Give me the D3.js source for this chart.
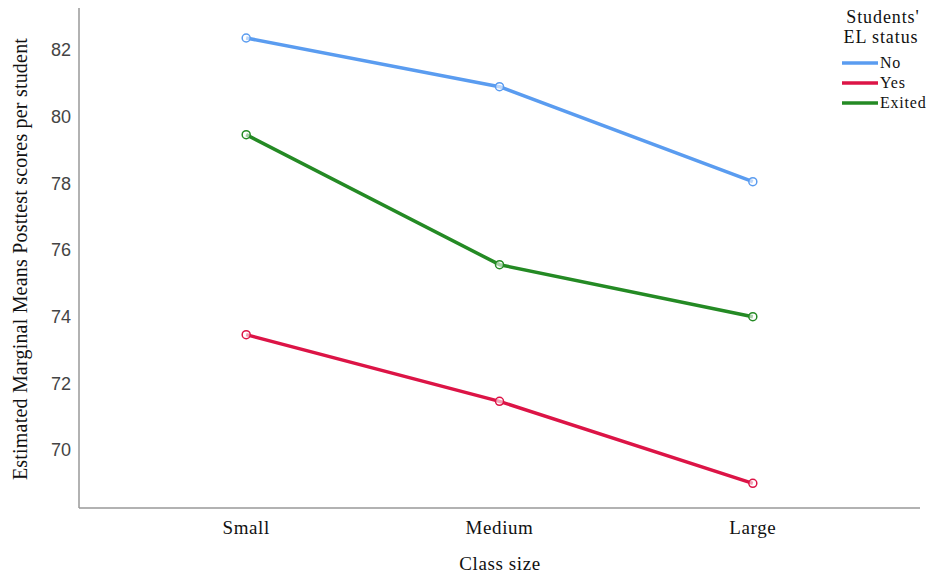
<!DOCTYPE html>
<html><head><meta charset="utf-8">
<script src="https://cdn.jsdelivr.net/npm/d3@7"></script>
<style>body{margin:0;background:#fff}</style>
</head><body>
<svg id="chart" width="929" height="577"></svg>
<script>
const categories = ["Small", "Medium", "Large"];
const seriesNames = ["No", "Yes", "Exited"];
const valuesNo = [82.36, 80.9, 78.05];
const valuesYes = [73.46, 71.46, 69.0];
const valuesExited = [79.46, 75.56, 74.0];
const yTicks = [70, 72, 74, 76, 78, 80, 82];
const colors = ["#5a9cf0", "#dc1446", "#248a24"];

const series = [valuesNo, valuesYes, valuesExited];
const svg = d3.select("#chart");
const plotLeft = 79, plotRight = 920, plotTop = 8, plotBottom = 508;
const serif = "'Liberation Serif', 'Times New Roman', serif";

const x = d3.scalePoint().domain(categories).range([plotLeft, plotRight]).padding(0.66);
const y = d3.scaleLinear().domain([68.26, 83.26]).range([plotBottom, plotTop]);

// axes lines
svg.append("line").attr("x1", plotLeft).attr("x2", plotLeft).attr("y1", plotTop).attr("y2", plotBottom)
  .attr("stroke", "#999").attr("stroke-width", 1.5);
svg.append("line").attr("x1", plotLeft).attr("x2", plotRight).attr("y1", plotBottom).attr("y2", plotBottom)
  .attr("stroke", "#999").attr("stroke-width", 1.5);

// y tick labels
svg.append("g").selectAll("text").data(yTicks).join("text")
  .attr("x", 71).attr("y", d => y(d)).attr("dy", "0.35em")
  .attr("text-anchor", "end").attr("font-family", "Arial, 'Liberation Sans', sans-serif")
  .attr("font-size", 18).attr("fill", "#444").text(d => d);

// x category labels
svg.append("g").selectAll("text").data(categories).join("text")
  .attr("x", d => x(d)).attr("y", 534).attr("text-anchor", "middle")
  .attr("font-family", serif).attr("font-size", 19).attr("letter-spacing", 0.6)
  .attr("fill", "#111").text(d => d);

// axis titles
svg.append("text").attr("x", 500).attr("y", 570).attr("text-anchor", "middle")
  .attr("font-family", serif).attr("font-size", 19).attr("letter-spacing", 0.6)
  .attr("fill", "#111").text("Class size");
svg.append("text").attr("transform", "translate(27,259) rotate(-90)").attr("text-anchor", "middle")
  .attr("font-family", serif).attr("font-size", 20).attr("letter-spacing", 0.2).attr("fill", "#111")
  .text("Estimated Marginal Means Posttest scores per student");

// lines
const line = d3.line().x((d, i) => x(categories[i])).y(d => y(d));
series.forEach((vals, s) => {
  svg.append("path").datum(vals).attr("d", line).attr("fill", "none")
    .attr("stroke", colors[s]).attr("stroke-width", 3.5).attr("stroke-linejoin", "round");
  svg.append("g").selectAll("circle").data(vals).join("circle")
    .attr("cx", (d, i) => x(categories[i])).attr("cy", d => y(d)).attr("r", 4)
    .attr("fill", "#fff").attr("fill-opacity", 0.6).attr("stroke", colors[s]).attr("stroke-width", 1.5);
});

// legend
const lg = svg.append("g");
lg.append("text").attr("x", 883).attr("y", 23).attr("text-anchor", "middle")
  .attr("font-family", serif).attr("font-size", 18).attr("letter-spacing", 0.9).attr("fill", "#111").text("Students'");
lg.append("text").attr("x", 881).attr("y", 43).attr("text-anchor", "middle")
  .attr("font-family", serif).attr("font-size", 18).attr("letter-spacing", 0.9).attr("fill", "#111").text("EL status");
seriesNames.forEach((n, i) => {
  const yy = 63 + i * 20;
  lg.append("line").attr("x1", 842).attr("x2", 878).attr("y1", yy).attr("y2", yy)
    .attr("stroke", colors[i]).attr("stroke-width", 3.5);
  lg.append("text").attr("x", 880).attr("y", yy + 5)
    .attr("font-family", serif).attr("font-size", 16).attr("letter-spacing", 0.8).attr("fill", "#111").text(n);
});
</script>
</body></html>
